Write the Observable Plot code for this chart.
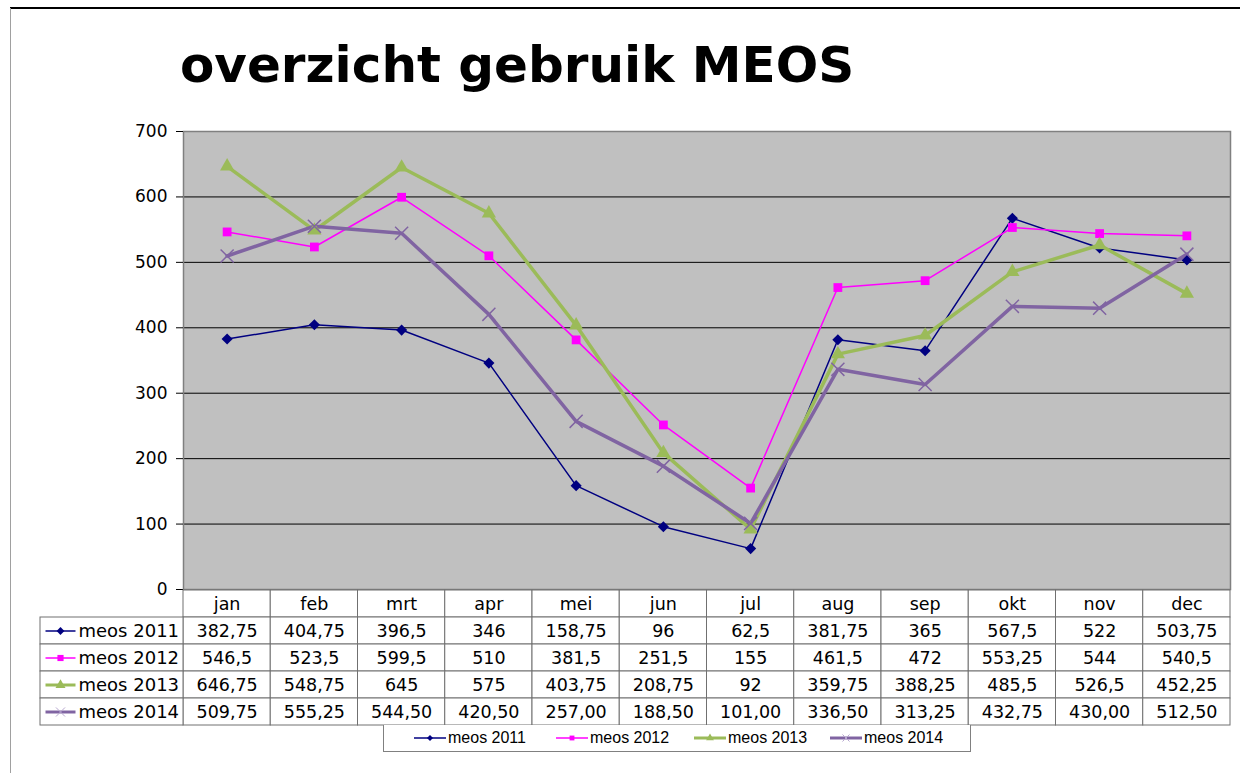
<!DOCTYPE html>
<html>
<head>
<meta charset="utf-8">
<script src="https://cdn.jsdelivr.net/npm/d3@7"></script>
<script src="https://cdn.jsdelivr.net/npm/@observablehq/plot@0.6"></script>
<style>
  html, body { margin: 0; padding: 0; background: #fff; }
  #page { position: relative; width: 1240px; height: 773px; overflow: hidden; font-family: "DejaVu Sans", Verdana, sans-serif; }
  #topline { position: absolute; left: 10px; top: 7px; width: 1230px; height: 2px; background: #000; }
  #leftline { position: absolute; left: 10px; top: 8px; width: 1px; height: 765px; background: #a0a0a0; }
  #title { position: absolute; left: 180px; top: 40px; font: bold 50px "DejaVu Sans", Verdana, sans-serif; line-height: 1; white-space: nowrap; color: #000; }
  #chart { position: absolute; left: 0; top: 120px; }
  #table { position: absolute; left: 0; top: 589px; }
  #legend { position: absolute; left: 383px; top: 725px; width: 586px; height: 26px; border: 1px solid #808080; border-top: none; background: #fff; font: 16px "Liberation Sans", Arial, sans-serif; }
  .li { position: absolute; top: 4px; display: flex; align-items: center; }
  .li svg { display: block; margin-right: 2px; }
</style>
</head>
<body>
<div id="page">
  <div id="topline"></div>
  <div id="leftline"></div>
  <div id="title">overzicht gebruik MEOS</div>
  <div id="chart"></div>
  <div id="table"></div>
  <div id="legend"></div>
</div>
<script>
const months = ["jan","feb","mrt","apr","mei","jun","jul","aug","sep","okt","nov","dec"];
const seriesNames = ["meos 2011","meos 2012","meos 2013","meos 2014"];
const meos2011 = [382.75,404.75,396.5,346,158.75,96,62.5,381.75,365,567.5,522,503.75];
const meos2012 = [546.5,523.5,599.5,510,381.5,251.5,155,461.5,472,553.25,544,540.5];
const meos2013 = [646.75,548.75,645,575,403.75,208.75,92,359.75,388.25,485.5,526.5,452.25];
const meos2014 = [509.75,555.25,544.50,420.50,257.00,188.50,101.00,336.50,313.25,432.75,430.00,512.50];
const yTicks = [0,100,200,300,400,500,600,700];
const seriesDecimals = [null,null,null,2];

const seriesValues = [meos2011, meos2012, meos2013, meos2014];
const styles = [
  {color:"#000080", width:1.5, symbol:"diamond2", r:5, fill:true, swatchMark:"#000080"},
  {color:"#ff00ff", width:1.5, symbol:"square2", r:5.6, fill:true, swatchMark:"#ff00ff"},
  {color:"#9bbb59", width:3.5, symbol:"triangle2", r:6.8, fill:true, swatchMark:"#9bbb59"},
  {color:"#8064a2", width:3.5, symbol:"times", r:6, fill:false, swatchMark:"#b8a8d0"}
];

const fmt = (v, dec) => (dec == null ? String(v) : v.toFixed(dec)).replace(".", ",");

const data = [];
seriesValues.forEach((vals, s) => vals.forEach((v, i) => data.push({series: seriesNames[s], s, i, month: months[i], value: v, label: fmt(v, seriesDecimals[s])})));

// ---------- chart ----------
const lineMarks = [];
styles.forEach((st, s) => {
  const d = data.filter(r => r.s === s);
  lineMarks.push(Plot.line(d, {x: r => r.i + 0.5, y: "value", stroke: st.color, strokeWidth: st.width}));
});
styles.forEach((st, s) => {
  const d = data.filter(r => r.s === s);
  lineMarks.push(Plot.dot(d, st.fill
    ? {x: r => r.i + 0.5, y: "value", symbol: st.symbol, r: st.r, fill: st.color, stroke: "none"}
    : {x: r => r.i + 0.5, y: "value", symbol: st.symbol, r: st.r, stroke: st.color, strokeWidth: 1.5}));
});

const chart = Plot.plot({
  width: 1240, height: 469,
  marginTop: 11, marginBottom: 0, marginLeft: 183, marginRight: 10,
  x: {domain: [0, 12], axis: null},
  y: {domain: [0, 700], axis: null},
  style: {fontFamily: "'DejaVu Sans', Verdana, sans-serif", background: "transparent", overflow: "visible"},
  marks: [
    Plot.frame({fill: "#c0c0c0"}),
    Plot.ruleY(yTicks.filter(t => t > 0 && t < 700), {stroke: "#000", strokeWidth: 1}),
    Plot.frame({stroke: "#808080", strokeWidth: 1.5}),
    Plot.axisY({ticks: yTicks, label: null, tickSize: 7, tickPadding: 9, fontSize: 17, stroke: "#000", fill: "#000", strokeOpacity: 1}),
    ...lineMarks
  ]
});
document.getElementById("chart").appendChild(chart);

// ---------- data table ----------
const colW = (1230 - 183) / 12;
const lx0 = -(183 - 40) / colW;
const rows = ["hdr", ...seriesNames];
const headerCells = months.map((m, i) => ({row: "hdr", i, text: m}));
const lineSym = {draw(ctx, size) { ctx.moveTo(-15, 0); ctx.lineTo(15, 0); }};

const swatchMarks = [];
styles.forEach((st, s) => {
  const nm = [seriesNames[s]];
  swatchMarks.push(Plot.dot(nm, {y: d => d, frameAnchor: "left", dx: 20, symbol: lineSym, r: 5, stroke: st.color, strokeWidth: st.width > 2 ? 3 : 1.5}));
  swatchMarks.push(Plot.dot(nm, st.fill
    ? {y: d => d, frameAnchor: "left", dx: 20, symbol: st.symbol, r: st.r * 0.7, fill: st.swatchMark, stroke: "none"}
    : {y: d => d, frameAnchor: "left", dx: 20, symbol: st.symbol, r: st.r * 0.7, stroke: st.swatchMark, strokeWidth: 1}));
});

const table = Plot.plot({
  width: 1240, height: 137,
  marginTop: 0, marginBottom: 1, marginLeft: 40, marginRight: 10,
  x: {domain: [lx0, 12], axis: null},
  y: {domain: rows, axis: null, padding: 0},
  style: {fontFamily: "'DejaVu Sans', Verdana, sans-serif", background: "transparent", overflow: "visible"},
  marks: [
    Plot.barX(headerCells, {x1: d => d.i, x2: d => d.i + 1, y: "row", fill: "#fff", stroke: "#707070", strokeWidth: 1}),
    Plot.barX(data, {x1: d => d.i, x2: d => d.i + 1, y: "series", fill: "#fff", stroke: "#707070", strokeWidth: 1}),
    Plot.barX(seriesNames, {x1: lx0, x2: 0, y: d => d, fill: "#fff", stroke: "#707070", strokeWidth: 1}),
    Plot.text(headerCells, {x: d => d.i + 0.5, y: "row", text: "text", fontSize: 17.5, fill: "#000"}),
    Plot.text(data, {x: d => d.i + 0.5, y: "series", text: "label", fontSize: 17.5, fill: "#000"}),
    Plot.text(seriesNames, {y: d => d, frameAnchor: "left", dx: 38, textAnchor: "start", text: d => d, fontSize: 18, fill: "#000"}),
    ...swatchMarks
  ]
});
document.getElementById("table").appendChild(table);

// ---------- legend ----------
const legend = document.getElementById("legend");
const legendLeft = [30, 172, 310, 446];
const symbolPath = (sym, size) => {
  const p = d3.path();
  sym.draw(p, size);
  return p.toString();
};
const symMap = {diamond2: d3.symbolDiamond2, square2: d3.symbolSquare2, triangle2: d3.symbolTriangle2, times: d3.symbolTimes};
styles.forEach((st, s) => {
  const item = document.createElement("div");
  item.className = "li";
  item.style.left = legendLeft[s] + "px";
  const w = 32, h = 18;
  const size = Math.PI * (st.r * 0.55) ** 2;
  const path = symbolPath(symMap[st.symbol], size);
  item.innerHTML = `<svg width="${w}" height="${h}"><line x1="0" x2="${w}" y1="${h/2}" y2="${h/2}" stroke="${st.color}" stroke-width="${st.width > 2 ? 3 : 1.5}"/>` +
    `<path transform="translate(${w/2},${h/2})" d="${path}" ${st.fill ? `fill="${st.swatchMark}"` : `fill="none" stroke="${st.swatchMark}" stroke-width="1"`}/></svg><span>${seriesNames[s]}</span>`;
  legend.appendChild(item);
});
</script>
</body>
</html>
